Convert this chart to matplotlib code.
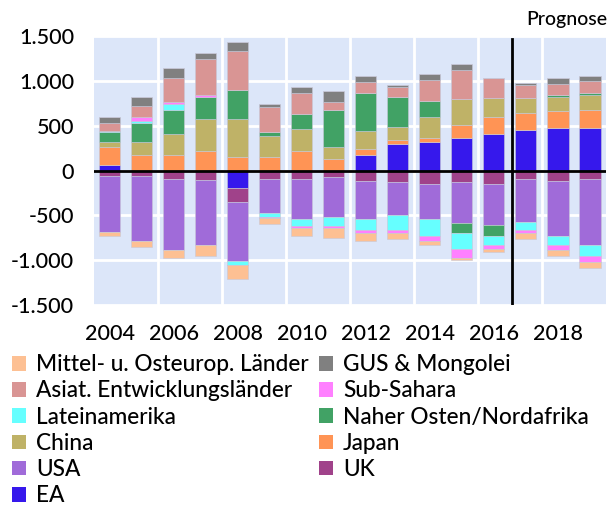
import matplotlib
matplotlib.use('Agg')
import matplotlib.pyplot as plt
import numpy as np
from matplotlib.patches import Patch
from matplotlib.ticker import FuncFormatter

plt.rcParams['font.family'] = ['Lato', 'DejaVu Sans']
plt.rcParams['font.weight'] = 'medium'

years = np.arange(2004, 2020)

# contributions per region, in stacking order (bottom -> top)
ea = [67, 0, 0, 0, -200, 0, 0, 0, 174, 300, 322, 363, 404, 448, 470, 470]
uk = [-56, -56, -96, -111, -148, -96, -96, -74, -115, -133, -156, -133, -156, -96, -115, -96]
usa = [-626, -733, -793, -719, -667, -378, -441, -441, -422, -359, -381, -448, -448, -481, -611, -737]
japan = [193, 174, 174, 219, 156, 156, 219, 133, 63, 44, 41, 144, 189, 189, 189, 207]
china = [63, 148, 230, 359, 422, 233, 248, 126, 207, 144, 233, 296, 211, 170, 163, 167]
naher_osten = [104, 207, 274, 244, 326, 37, 167, 419, 419, 333, 181, -122, -122, 0, 19, 22]
lateinamerika = [19, 19, 63, 0, -44, -44, -81, -104, -126, -170, -193, -170, -107, -89, -107, -126]
sub_sahara = [0, 48, 26, 22, 0, -15, -22, -22, -37, -37, -59, -104, -41, -33, -59, -59]
asiat = [89, 122, 267, 400, 426, 278, 233, 85, 130, 111, 237, 315, 230, 148, 130, 130]
gus = [59, 104, 107, 63, 104, 41, 63, 126, 59, 19, 59, 67, 0, 19, 63, 56]
mittel_ost = [-44, -63, -89, -126, -148, -67, -89, -107, -85, -70, -41, -19, -41, -67, -63, -67]

series = [
    ('EA', ea, '#3618EC'),
    ('UK', uk, '#A0428A'),
    ('USA', usa, '#A06BD9'),
    ('Japan', japan, '#FF9455'),
    ('China', china, '#BFB267'),
    ('Naher Osten/Nordafrika', naher_osten, '#41A265'),
    ('Lateinamerika', lateinamerika, '#66FFFF'),
    ('Sub-Sahara', sub_sahara, '#FF80FF'),
    ('Asiat. Entwicklungsländer', asiat, '#D99594'),
    ('GUS & Mongolei', gus, '#808080'),
    ('Mittel- u. Osteurop. Länder', mittel_ost, '#FDC093'),
]

fig = plt.figure(figsize=(6.09, 5.09), dpi=100)
ax = fig.add_axes([0.154, 0.401, 0.841, 0.528])
ax.set_facecolor('#DCE6F9')

pos_bottom = np.zeros(len(years))
neg_bottom = np.zeros(len(years))
handles = {}
for name, vals, col in series:
    v = np.array(vals, dtype=float)
    pos = np.where(v > 0, v, 0)
    neg = np.where(v < 0, v, 0)
    ax.bar(years, pos, 0.66, bottom=pos_bottom, color=col, edgecolor='#C8C8D8', linewidth=0.4, zorder=3)
    ax.bar(years, neg, 0.66, bottom=neg_bottom, color=col, edgecolor='#C8C8D8', linewidth=0.4, zorder=3)
    pos_bottom += pos
    neg_bottom += neg
    handles[name] = Patch(facecolor=col)

ax.axhline(0, color='black', linewidth=2, zorder=4)
ax.plot([2016.55, 2016.55], [-1500, 1465], color='black', linewidth=2, zorder=4)

ax.set_xlim(2003.5, 2019.5)
ax.set_ylim(-1500, 1500)
ax.set_xticks(np.arange(2004, 2019, 2))
ax.set_xticks(np.arange(2005.5, 2018, 2), minor=True)
ax.set_yticks(np.arange(-1500, 1501, 500))
ax.yaxis.set_major_formatter(FuncFormatter(lambda v, p: f'{int(v):,}'.replace(',', '.')))
ax.tick_params(axis='both', which='both', length=0, labelsize=15.5, pad=14)
ax.grid(axis='y', which='major', color='white', linewidth=2, zorder=1)
ax.grid(axis='x', which='minor', color='white', linewidth=2, zorder=1)
for s in ax.spines.values():
    s.set_visible(False)

fig.text(0.998, 0.962, 'Prognose', ha='right', va='center', fontsize=14)

# legend filled row by row
order = ['Mittel- u. Osteurop. Länder', 'Asiat. Entwicklungsländer', 'Lateinamerika', 'China', 'USA', 'EA',
         'GUS & Mongolei', 'Sub-Sahara', 'Naher Osten/Nordafrika', 'Japan', 'UK']
fig.legend([handles[n] for n in order], order, ncol=2, loc='upper left',
           bbox_to_anchor=(0.019, 0.304), frameon=False, fontsize=16.3,
           handlelength=0.62, handleheight=0.62, handletextpad=0.45,
           labelspacing=0.23, columnspacing=0.45, borderpad=0, borderaxespad=0)

fig.savefig('out.png', dpi=100)
